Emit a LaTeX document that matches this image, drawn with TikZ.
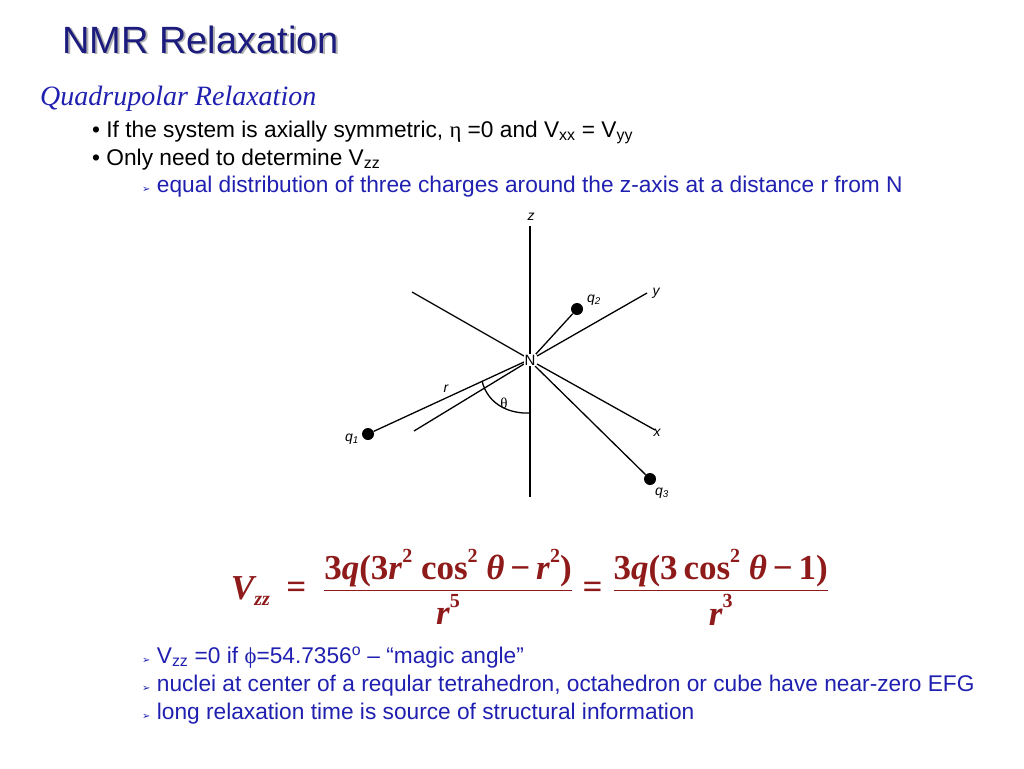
\documentclass[tikz,border=0pt]{standalone}
\usepackage{amsmath}
\usepackage{fontspec}
\setmainfont{Liberation Sans}
\newfontfamily\tms{Liberation Serif}
\newfontfamily\dvs{DejaVu Sans}
\definecolor{ttl}{HTML}{1C1C7E}
\definecolor{blu}{HTML}{2020B0}
\definecolor{eqc}{HTML}{8E1A1A}
\newcommand\mysup[1]{\raisebox{1.1ex}{\fontsize{20}{20}\selectfont #1}}
\newcommand\arr{{\dvs\fontsize{10}{10}\selectfont ➢}\ }
\begin{document}
\begin{tikzpicture}[x=1pt,y=-1pt,
  ln/.style={line width=1.3pt,black},
  chg/.style={circle,fill=black,inner sep=0pt,minimum size=12pt},
  lab/.style={font=\fontsize{14}{14}\selectfont\itshape,inner sep=1pt},
  txt/.style={anchor=base west,inner sep=0pt,font=\fontsize{22.7}{24}\selectfont}]
\useasboundingbox (0,0) rectangle (1024,768);
% title
\node[anchor=base west,inner sep=0pt,text=gray!60,font=\fontsize{38}{40}\selectfont] at (64,55) {NMR Relaxation};
\node[anchor=base west,inner sep=0pt,text=ttl,font=\fontsize{38}{40}\selectfont] (title) at (62,53) {NMR Relaxation};
\node[anchor=base west,inner sep=0pt,text=blu,font=\tms\itshape\fontsize{28}{30}\selectfont] (sub) at (40,105) {Quadrupolar Relaxation};
\node[txt] (b1) at (92,137) {• If the system is axially symmetric, {\tms η} =0 and V\textsubscript{xx} = V\textsubscript{yy}};
\node[txt] (b2) at (92,165) {• Only need to determine V\textsubscript{zz}};
\node[txt,text=blu] (b3) at (142,192) {\arr equal distribution of three charges around the z-axis at a distance r from N};
% diagram
\coordinate (N) at (530,360);
\draw[ln] (530,226) -- (530,497);
\draw[ln] (412,292) -- (524,356);
\draw[ln] (414,431) -- (524,364);
\draw[ln] (537,364) -- (655,430);
\draw[ln] (537,356) -- (647,293);
\node[chg] (q1) at (368,434) {};
\node[chg] (q2) at (577,309) {};
\node[chg] (q3) at (650,479) {};
\draw[ln] (q1) -- (524,362);
\draw[ln] (q2) -- (535,355);
\draw[ln] (q3) -- (535,366);
\node[fill=white,inner sep=0.5pt,font=\fontsize{15}{15}\selectfont] (Nl) at (N) {N};
\draw[ln] (482,381) .. controls (488,405) and (510,414) .. (530,413);
\node[lab] at (531,217) {z};
\node[lab] at (656,293) {y};
\node[lab] at (657,433) {x};
\node[lab] at (446,389) {r};
\node[font=\tms\fontsize{15}{15}\selectfont] at (504,403) {θ};
\node[lab] at (352,439) {q\textsubscript{1}};
\node[lab] at (594,300) {q\textsubscript{2}};
\node[lab] at (662,493) {q\textsubscript{3}};
% equation
\node[text=eqc,inner sep=0pt,font=\tms\bfseries\fontsize{35}{36}\selectfont] (eq) at (530,587) {%
$\vcenter{\hbox{\itshape V\raisebox{-0.35ex}{\fontsize{20}{20}\selectfont zz}}}\;\vcenter{\hbox{\;=\;}}\;
\dfrac{\mbox{3\textit{q}(3\textit{r}\mysup{2} cos\mysup{2} \textit{θ}\,−\,\textit{r}\mysup{2})}}{\mbox{\textit{r}\mysup{5}}}
\vcenter{\hbox{\;=\;}}
\dfrac{\mbox{3\textit{q}(3\,cos\mysup{2} \textit{θ}\,−\,1)}}{\mbox{\textit{r}\mysup{3}}}$};
% bottom bullets
\node[txt,text=blu] (c1) at (142,663) {\arr V\textsubscript{zz} =0 if {\tms ϕ}=54.7356\textsuperscript{o} – “magic angle”};
\node[txt,text=blu] (c2) at (142,691) {\arr nuclei at center of a reqular tetrahedron, octahedron or cube have near-zero EFG};
\node[txt,text=blu] (c3) at (142,719) {\arr long relaxation time is source of structural information};
\end{tikzpicture}
\end{document}
